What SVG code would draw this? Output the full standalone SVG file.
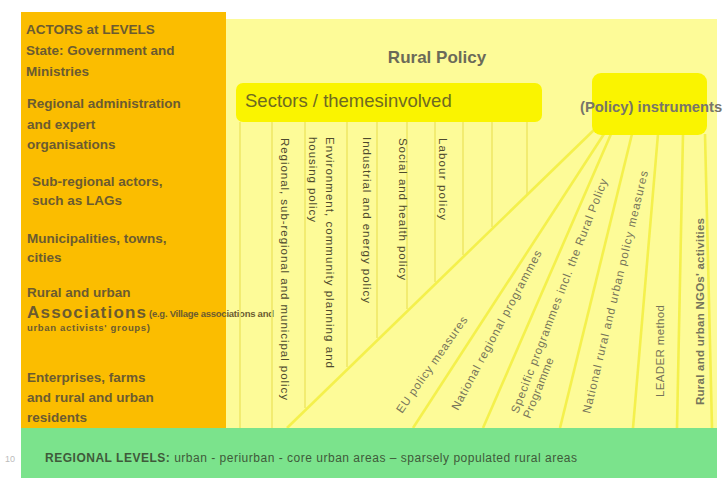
<svg xmlns="http://www.w3.org/2000/svg" width="723" height="479" viewBox="0 0 723 479">
<style>
.actor{font-family:"Liberation Sans",Arial,sans-serif;font-weight:bold;font-size:13.5px;fill:#6b5b30}
.small{font-family:"Liberation Sans",Arial,sans-serif;font-weight:bold;font-size:9.5px;fill:#6b5b30}
.sect{font-family:"Liberation Sans",Arial,sans-serif;font-size:11.5px;fill:#4e4a2e}
.inst{font-family:"Liberation Sans",Arial,sans-serif;font-size:11.5px;fill:#76745a}
.vline{stroke:#efe968;stroke-width:1.6;fill:none}
.pline{stroke:#f4f04c;stroke-width:2.6;fill:none}
</style>
<rect x="0" y="0" width="723" height="479" fill="#ffffff"/>
<g id="rural-policy-panel">
<rect x="226" y="19" width="491" height="410" fill="#fdfb98"/>
<text x="437" y="63" text-anchor="middle" font-family="Liberation Sans, Arial, sans-serif" font-weight="bold" font-size="17" fill="#6b6a58">Rural Policy</text>
</g>
<g id="actors">
<rect x="21" y="12" width="205" height="417" fill="#fbbd00"/>
<text class="actor" x="26" y="34">ACTORS at LEVELS</text>
<text class="actor" x="26" y="55">State: Government and</text>
<text class="actor" x="26" y="76">Ministries</text>
<text class="actor" x="27" y="108">Regional administration</text>
<text class="actor" x="27" y="129">and expert</text>
<text class="actor" x="27" y="149">organisations</text>
<text class="actor" x="32" y="186">Sub-regional actors,</text>
<text class="actor" x="32" y="205">such as LAGs</text>
<text class="actor" x="27" y="243">Municipalities, towns,</text>
<text class="actor" x="27" y="262">cities</text>
<text class="actor" x="27" y="297">Rural and urban</text>
<text class="actor" x="27" y="318" style="font-size:17px" textLength="119" lengthAdjust="spacing">Associations</text>
<text class="small" x="149" y="317" textLength="125" lengthAdjust="spacing">(e.g. Village associations and</text>
<text class="small" x="27" y="331" textLength="123" lengthAdjust="spacing">urban activists' groups)</text>
<text class="actor" x="27" y="382">Enterprises, farms</text>
<text class="actor" x="27" y="402">and  rural and urban</text>
<text class="actor" x="27" y="422">residents</text>
</g>
<g id="connectors">
<line class="vline" x1="240" y1="122" x2="240" y2="428"/>
<line class="vline" x1="272" y1="122" x2="272" y2="428"/>
<line class="vline" x1="305" y1="122" x2="305" y2="408"/>
<line class="vline" x1="347" y1="122" x2="347" y2="367"/>
<line class="vline" x1="377" y1="122" x2="377" y2="338"/>
<line class="vline" x1="407" y1="122" x2="407" y2="309"/>
<line class="vline" x1="435" y1="122" x2="435" y2="282"/>
<line class="vline" x1="463" y1="122" x2="463" y2="255"/>
<line class="vline" x1="492" y1="122" x2="492" y2="227"/>
<line class="vline" x1="527" y1="122" x2="527" y2="194"/>
<line class="pline" x1="596" y1="128" x2="287" y2="428"/>
<line class="pline" x1="604" y1="134" x2="413" y2="428"/>
<line class="pline" x1="611" y1="134" x2="483" y2="428"/>
<line class="pline" x1="632" y1="134" x2="560" y2="428"/>
<line class="pline" x1="658" y1="134" x2="633" y2="428"/>
<line class="pline" x1="683" y1="134" x2="677" y2="428"/>
<line class="pline" x1="705" y1="134" x2="712" y2="428"/>
</g>
<g id="sectors">
<rect x="236" y="83" width="306" height="39" rx="7" fill="#faf400"/>
<text x="245" y="107" font-family="Liberation Sans, Arial, sans-serif" font-size="18.5" fill="#6e6a22">Sectors / themesinvolved</text>
</g>
<g id="sector-labels">
<text class="sect" transform="translate(281,138) rotate(90)" textLength="262" lengthAdjust="spacing">Regional, sub-regional and municipal policy</text>
<text class="sect" transform="translate(326,137) rotate(90)" textLength="231" lengthAdjust="spacing">Environment, community planning and</text>
<text class="sect" transform="translate(309,137) rotate(90)" textLength="85" lengthAdjust="spacing">housing policy</text>
<text class="sect" transform="translate(363,137) rotate(90)" textLength="166" lengthAdjust="spacing">Industrial and energy policy</text>
<text class="sect" transform="translate(399,138) rotate(90)" textLength="142" lengthAdjust="spacing">Social and health policy</text>
<text class="sect" transform="translate(439,138) rotate(90)" textLength="82" lengthAdjust="spacing">Labour policy</text>
</g>
<g id="instruments">
<rect x="592" y="73" width="115" height="62" rx="9" fill="#faf400"/>
<text x="580" y="112" font-family="Liberation Sans, Arial, sans-serif" font-weight="bold" font-size="14.8" fill="#77756a">(Policy) instruments</text>
</g>
<g id="instrument-labels">
<text class="inst" transform="translate(402,414) rotate(-55)" textLength="115" lengthAdjust="spacing">EU policy measures</text>
<text class="inst" transform="translate(458,411) rotate(-62)" textLength="179" lengthAdjust="spacing">National regional programmes</text>
<text class="inst" transform="translate(518,414) rotate(-69)" textLength="250" lengthAdjust="spacing">Specific programmes  incl. the Rural Policy</text>
<text class="inst" transform="translate(530,419) rotate(-68)" textLength="64" lengthAdjust="spacing">Programme</text>
<text class="inst" transform="translate(590,414) rotate(-76.5)" textLength="249" lengthAdjust="spacing">National rural and urban policy measures</text>
<text class="inst" transform="translate(664,397) rotate(-90)" textLength="92" lengthAdjust="spacing">LEADER method</text>
<text class="inst" transform="translate(704,405) rotate(-90)" textLength="187" lengthAdjust="spacing" font-weight="bold" fill="#5f5d45">Rural and urban NGOs' activities</text>
</g>
<g id="regional-levels">
<rect x="21" y="428" width="696" height="50" fill="#7be38c"/>
<text x="45" y="462" font-family="Liberation Sans, Arial, sans-serif" font-size="12" fill="#3f5a3a" textLength="532" lengthAdjust="spacing"><tspan font-weight="bold">REGIONAL  LEVELS:</tspan>  urban - periurban  - core urban areas  – sparsely populated rural areas</text>
</g>
<text x="5" y="462" font-family="Liberation Sans, Arial, sans-serif" font-size="9" fill="#bbbbbb">10</text>
</svg>
